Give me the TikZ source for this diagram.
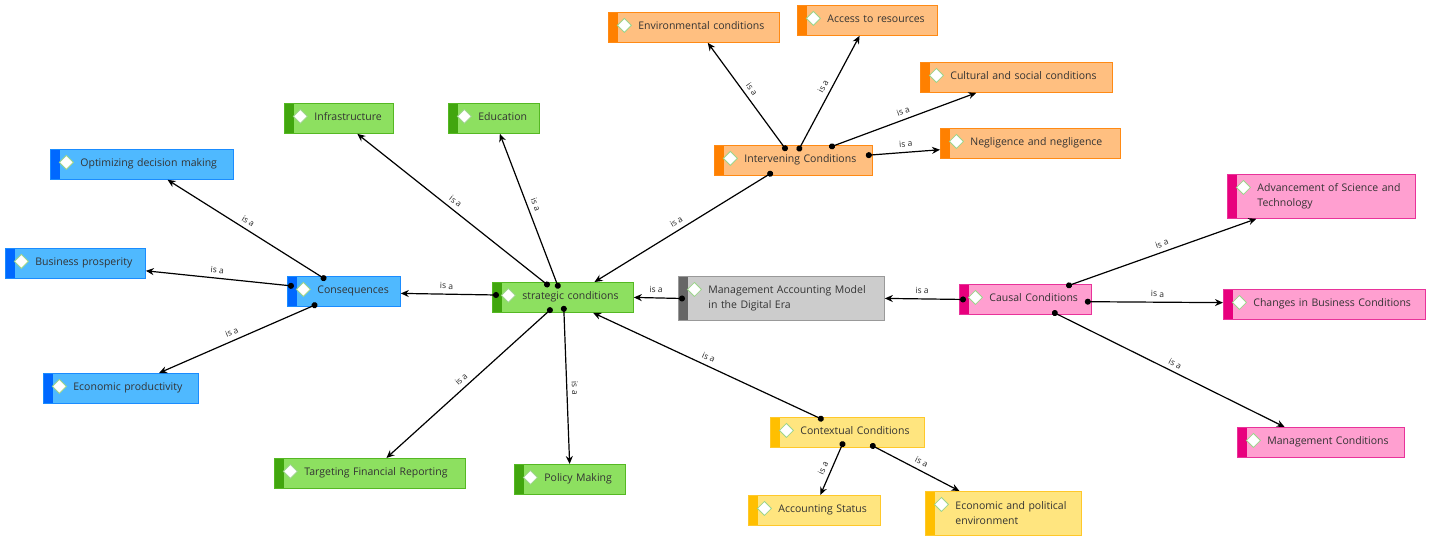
\documentclass[tikz,border=0pt]{standalone}
\usepackage{fontspec}
\setmainfont{Open Sans}
\usetikzlibrary{arrows.meta}

\definecolor{orgF}{HTML}{FFBF80}
\definecolor{orgB}{HTML}{FF8000}
\definecolor{orgL}{HTML}{FF8A14}
\definecolor{grnF}{HTML}{8DE060}
\definecolor{grnB}{HTML}{41A60E}
\definecolor{grnL}{HTML}{55B823}
\definecolor{bluF}{HTML}{4FB9FF}
\definecolor{bluB}{HTML}{0068FF}
\definecolor{bluL}{HTML}{1A8CFF}
\definecolor{gryF}{HTML}{CCCCCC}
\definecolor{gryB}{HTML}{666666}
\definecolor{gryL}{HTML}{999999}
\definecolor{pnkF}{HTML}{FF9FD0}
\definecolor{pnkB}{HTML}{E8007D}
\definecolor{pnkL}{HTML}{E8339A}
\definecolor{yelF}{HTML}{FFE57F}
\definecolor{yelB}{HTML}{FFBF00}
\definecolor{yelL}{HTML}{FFC82A}
\definecolor{iconB}{HTML}{9CD48B}
\definecolor{txt}{HTML}{333333}

\tikzset{
    topic/.style n args={3}{
        rectangle, anchor=north west, fill=#1, draw=#2, line width=0.8pt,
        text=txt, font=\fontsize{10.5}{15}\selectfont, align=left,
        inner xsep=5pt, inner ysep=4pt, minimum height=30pt, text depth=3.5pt,
        execute at begin node={\hangindent=25pt\hangafter=0},
        path picture={
            \fill[#3] (path picture bounding box.north west) rectangle ([xshift=10pt]path picture bounding box.south west);
            \draw[iconB, fill=white, line width=0.8pt] ([xshift=9pt, yshift=-13pt]path picture bounding box.north west)
                -- ++(7pt,7pt) -- ++(7pt,-7pt) -- ++(-7pt,-7pt) -- cycle;
        }
    },
    two lines/.style={minimum height=44pt, text depth=},
    org box/.style={topic={orgF}{orgL}{orgB}},
    grn box/.style={topic={grnF}{grnL}{grnB}},
    blu box/.style={topic={bluF}{bluL}{bluB}},
    gry box/.style={topic={gryF}{gryL}{gryB}},
    pnk box/.style={topic={pnkF}{pnkL}{pnkB}},
    yel box/.style={topic={yelF}{yelL}{yelB}},
    isa/.style={{Circle[length=6pt]}-{Stealth[length=8pt,width=7pt]}, line width=1.2pt, shorten <=-7pt},
    lbl/.style={above, sloped, inner sep=4.5pt, text=black!85, font=\fontsize{8.5}{9}\selectfont}
}

\begin{document}
\begin{tikzpicture}[x=1pt, y=-1pt]
        \useasboundingbox (0,0) rectangle (1431,541);

        \node[org box, text width=161pt] (env) at (608,12) {Environmental conditions};
        \node[org box, text width=130pt] (acc) at (797,5) {Access to resources};
        \node[org box, text width=182pt] (cult) at (920,62) {Cultural and social conditions};
        \node[org box, text width=170pt] (negl) at (940,128) {Negligence and negligence};
        \node[org box, text width=148pt] (inter) at (714,145) {Intervening Conditions};

        \node[grn box, text width=99pt] (infra) at (284,103) {Infrastructure};
        \node[grn box, text width=81pt] (edu) at (448,103) {Education};
        \node[grn box, text width=131pt] (strat) at (492,282) {strategic conditions};
        \node[grn box, text width=181pt] (target) at (274,458) {Targeting Financial Reporting};
        \node[grn box, text width=101pt] (policy) at (514,464) {Policy Making};

        \node[blu box, text width=173pt] (optim) at (50,149) {Optimizing decision making};
        \node[blu box, text width=130pt] (busi) at (5,248) {Business prosperity};
        \node[blu box, text width=103pt] (conseq) at (287,276) {Consequences};
        \node[blu box, text width=145pt] (econprod) at (43,373) {Economic productivity};

        \node[gry box, two lines, text width=196pt] (mam) at (678,276) {Management Accounting Model\\in the Digital Era};

        \node[pnk box, text width=122pt] (causal) at (959,284) {Causal Conditions};
        \node[pnk box, two lines, text width=178pt] (adv) at (1227,174) {Advancement of Science and\\Technology};
        \node[pnk box, text width=192pt] (chg) at (1223,289) {Changes in Business Conditions};
        \node[pnk box, text width=157pt] (mgmt) at (1237,427) {Management Conditions};

        \node[yel box, text width=144pt] (context) at (770,417) {Contextual Conditions};
        \node[yel box, text width=122pt] (acctst) at (748,495) {Accounting Status};
        \node[yel box, two lines, text width=146pt] (econpol) at (925,491) {Economic and political\\environment};

        \draw[isa] (inter.210) -- node[lbl]{is a} (strat.26);
        \draw[isa] (inter.125) -- node[lbl]{is a} (env.312);
        \draw[isa] (inter.63) -- node[lbl]{is a} (acc.243);
        \draw[isa] (inter.20) -- node[lbl]{is a} (cult.201);
        \draw[isa] (inter.4) -- node[lbl]{is a} (negl.184);

        \draw[isa] (strat.141) -- node[lbl]{is a} (infra.320);
        \draw[isa] (strat.113) -- node[lbl]{is a} (edu.291);
        \draw[isa] (strat.178) -- node[lbl]{is a} (conseq.358);
        \draw[isa] (strat.224) -- node[lbl]{is a} (target.43);
        \draw[isa] (strat.274) -- node[lbl]{is a} (policy.91);

        \draw[isa] (mam.west) -- node[lbl]{is a} (strat.east);
        \draw[isa] (causal.west) -- node[lbl]{is a} (mam.east);

        \draw[isa] (conseq.147) -- node[lbl]{is a} (optim.329);
        \draw[isa] (conseq.174) -- node[lbl]{is a} (busi.354);
        \draw[isa] (conseq.205) -- node[lbl]{is a} (econprod.22);

        \draw[isa] (context.153) -- node[lbl]{is a} (strat.333);
        \draw[isa] (context.247) -- node[lbl]{is a} (acctst.69);
        \draw[isa] (context.332) -- node[lbl]{is a} (econpol.153);

        \draw[isa] (causal.18) -- node[lbl]{is a} (adv.199);
        \draw[isa] (causal.358) -- node[lbl]{is a} (chg.179);
        \draw[isa] (causal.335) -- node[lbl]{is a} (mgmt.157);
\end{tikzpicture}
\end{document}
